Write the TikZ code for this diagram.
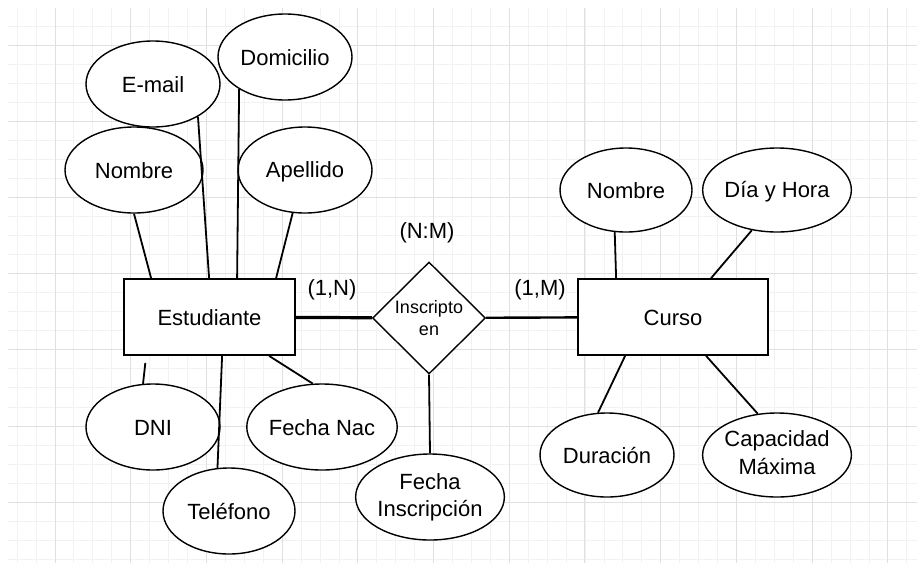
\documentclass[tikz,border=0pt]{standalone}
\usepackage{fontspec}
\setmainfont{Liberation Sans}
\usepackage{tikz}
\usetikzlibrary{shapes.geometric}
\usetikzlibrary{calc}

\newcommand{\pun}{\rule[-4.5pt]{0pt}{25pt}}

\tikzset{
  texto/.style={font=\fontsize{22}{25}\selectfont},
  entidad/.style={texto, draw, fill=white, line width=1.8pt, minimum width=171pt, minimum height=76pt, inner sep=0pt, execute at begin node=\pun},
  atributo/.style={texto, ellipse, draw, fill=white, line width=1.4pt, minimum width=134pt, minimum height=86pt, inner sep=0pt, align=center, execute at begin node=\pun},
  relacion/.style={diamond, aspect=1, draw, fill=white, line width=1.4pt, minimum width=113pt, minimum height=112pt, inner sep=0pt, align=center, font=\fontsize{18}{22}\selectfont},
  enlace/.style={line width=1.8pt},
  menor/.style={black!5, line width=0.9pt},
  mayor/.style={black!12, line width=1pt}
}

\begin{document}
\begin{tikzpicture}[x=1pt, y=-1pt]
\useasboundingbox (0,0) rectangle (917,565);

% cuadricula
\foreach \k in {-2,...,45} \draw[menor] ({55+18.93*\k},8) -- ({55+18.93*\k},563);
\foreach \k in {-1,...,27} \draw[menor] (8,{45+19.05*\k}) -- (917,{45+19.05*\k});
\foreach \k in {0,...,11} \draw[mayor] ({55+75.7*\k},8) -- ({55+75.7*\k},563);
\foreach \k in {0,...,6} \draw[mayor] (8,{45+76.2*\k}) -- (917,{45+76.2*\k});

\node[entidad] (est) at (209.5,317) {Estudiante};
\node[entidad, minimum width=190pt] (cur) at (673,317) {Curso};
\node[relacion] (ins) at (429,318) {Inscripto\\en};

\node[atributo] (email) at (153,84) {E-mail};
\node[atributo] (dom) at (285,57) {Domicilio};
\node[atributo, minimum width=138pt] (nom) at (134,170) {Nombre};
\node[atributo] (ape) at (305,170) {Apellido};
\node[atributo] (dni) at (153,427) {DNI};
\node[atributo, minimum width=132pt] (fnac) at (322,427) {Fecha Nac};
\node[atributo, minimum width=132pt] (tel) at (229,511) {Teléfono};
\node[atributo, minimum width=135pt] (fins) at (430,497) {Fecha\\[2pt]\pun Inscripción};

\node[atributo, minimum width=132pt, minimum height=84pt] (nomc) at (626,190) {Nombre};
\node[atributo, minimum width=133pt, minimum height=84pt] (dia) at (777,190) {Día y Hora};
\node[atributo, minimum height=84pt] (dur) at (607,455) {Duración};
\node[atributo, minimum width=132pt, minimum height=84pt] (cap) at (777,455) {Capacidad\\[2pt]\pun Máxima};

\node[texto] (nm) at (427,233) {(N:M)};
\node[texto] (uno-n) at (332,290) {(1,N)};
\node[texto] (uno-m) at (540,290) {(1,M)};

\draw[enlace, line width=3.2pt] (est) -- (ins);
\draw[enlace, line width=2.4pt] (ins) -- (cur);
\draw[enlace] (ins.south) -- (fins.north);

\draw[enlace] (nom.south) -- ($(est.north west)+(28,0)$);
\draw[enlace] (email.-36) -- ($(est.north west)+(86,0)$);
\draw[enlace] (dom.215) -- ($(est.north west)+(114,0)$);
\draw[enlace] (ape.-106) -- ($(est.north west)+(153,0)$);
\draw[enlace, shorten >=7pt] (dni.103) -- ($(est.south west)+(23,0)$);
\draw[enlace] ($(est.south west)+(99,0)$) -- (tel.105);
\draw[enlace] ($(est.south west)+(146,0)$) -- (fnac.102);

\draw[enlace] (nomc.-105) -- ($(cur.north west)+(39,0)$);
\draw[enlace] (dia.-122) -- ($(cur.north west)+(134,0)$);
\draw[enlace] ($(cur.south west)+(48,0)$) -- (dur.102);
\draw[enlace] ($(cur.south west)+(129,0)$) -- (cap.115);
\end{tikzpicture}
\end{document}
